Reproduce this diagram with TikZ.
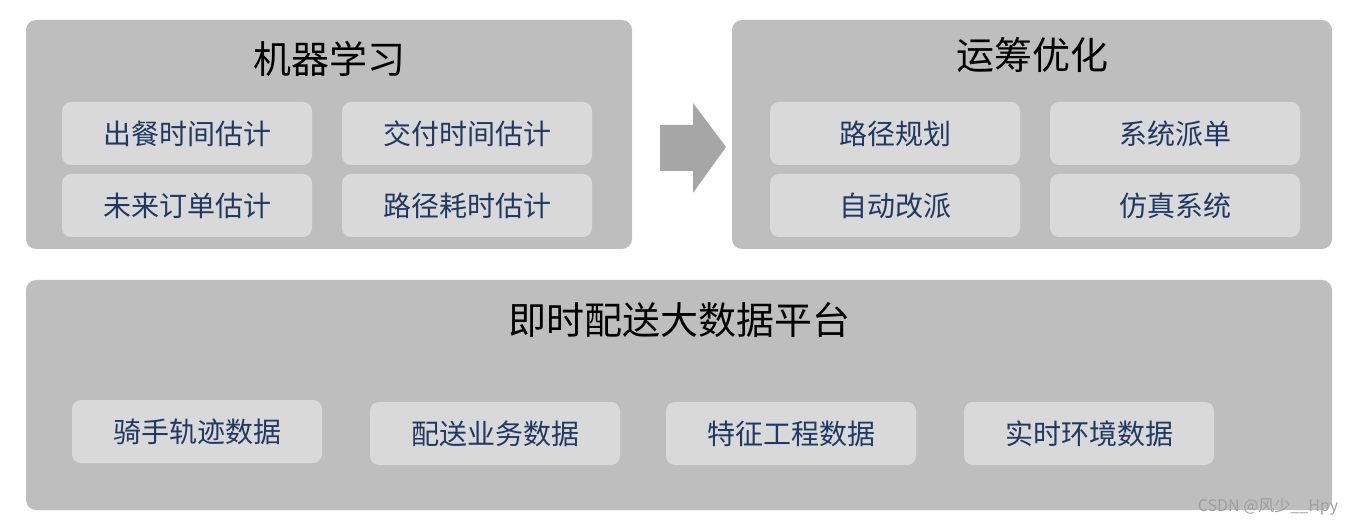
\documentclass[tikz,border=0pt]{standalone}
\usepackage{fontspec}
\newfontfamily\cjk{Noto Sans CJK SC}
\usetikzlibrary{positioning}
\definecolor{panelgray}{HTML}{BEBEBE}
\definecolor{boxgray}{HTML}{D9D9D9}
\definecolor{arrowgray}{HTML}{A6A6A6}
\definecolor{textblue}{HTML}{1F3864}
\tikzset{
  panel/.style={fill=panelgray, rounded corners=10pt, inner sep=0pt},
  item/.style={fill=boxgray, rounded corners=9pt, minimum width=250pt,
    minimum height=63pt, inner sep=0pt, text=textblue,
    font=\cjk\fontsize{28}{28}\selectfont},
  title/.style={text=black, font=\cjk\fontsize{38}{38}\selectfont}
}
\begin{document}
\begin{tikzpicture}[x=1pt,y=-1pt]
  \useasboundingbox (0,0) rectangle (1356,526);
  % panels
  \node[panel, minimum width=606pt, minimum height=229pt] (ml) at (329,134.5) {};
  \node[panel, minimum width=600pt, minimum height=229pt] (or) at (1032,134.5) {};
  \node[panel, minimum width=1306pt, minimum height=230pt] (bd) at (679,395) {};
  % titles
  \node[title] (mltitle) at (329,59) {机器学习};
  \node[title] (ortitle) at (1032,55) {运筹优化};
  \node[title] (bdtitle) at (679,320) {即时配送大数据平台};
  % machine learning
  \node[item] (meal) at (187,133.5) {出餐时间估计};
  \node[item] (deliv) at (467,133.5) {交付时间估计};
  \node[item] (order) at (187,205.5) {未来订单估计};
  \node[item] (route) at (467,205.5) {路径耗时估计};
  % operations research
  \node[item] (plan) at (895,133.5) {路径规划};
  \node[item] (dispatch) at (1175,133.5) {系统派单};
  \node[item] (reassign) at (895,205.5) {自动改派};
  \node[item] (sim) at (1175,205.5) {仿真系统};
  % data platform
  \node[item] (rider) at (197,431.5) {骑手轨迹数据};
  \node[item] (biz) at (495,433.5) {配送业务数据};
  \node[item] (feat) at (791,433.5) {特征工程数据};
  \node[item] (env) at (1089,433.5) {实时环境数据};
  % block arrow
  \fill[arrowgray] (660,125) -- (693,125) -- (693,103) -- (726,147)
    -- (693,193) -- (693,171) -- (660,171) -- cycle;
  % watermark
  \node[text=black!38, font=\cjk\fontsize{16}{16}\selectfont, inner sep=0pt]
    (mark) at (1268,507) {CSDN @风少\_\_Hpy};
\end{tikzpicture}
\end{document}
